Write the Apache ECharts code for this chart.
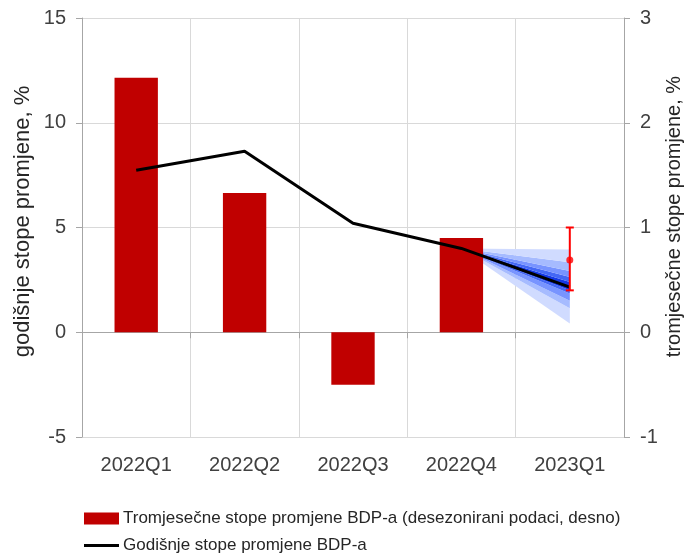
<!DOCTYPE html>
<html>
<head>
<meta charset="utf-8">
<script src="https://cdn.jsdelivr.net/npm/echarts@6/dist/echarts.min.js"></script>
<style>
html,body{margin:0;padding:0;background:#fff;}
#chart{width:684px;height:553px;}
</style>
</head>
<body>
<div id="chart"></div>
<script>
// ---- data ----
const categories = ['2022Q1', '2022Q2', '2022Q3', '2022Q4', '2023Q1'];
const quarterlyRates = [2.43, 1.33, -0.5, 0.9, null];          // right axis
const annualRates = [7.73, 8.64, 5.2, 4.0, 2.15];               // left axis
const fanStartIndex = 3;                                        // fan starts at 2022Q4
const fanEndEdges = [0.42, 1.14, 1.5, 1.85, 2.0, 2.4, 2.64, 2.92, 3.34, 3.95]; // band edges at 2023Q1
const fanColors = ['#d0dbff', '#a6bbff', '#7894ff', '#4468f5', '#1438e6', '#4468f5', '#7894ff', '#a6bbff', '#d0dbff'];
const forecastPoint = 0.69;   // 2023Q1 quarterly, right axis
const forecastLow = 0.40;
const forecastHigh = 1.0;
const leftTicks = {min: -5, max: 15, interval: 5};
const rightTicks = {min: -1, max: 3, interval: 1};
const legendNames = ['Tromjesečne stope promjene BDP-a (desezonirani podaci, desno)', 'Godišnje stope promjene BDP-a'];

// ---- build fan series ----
const fanSeries = [];
const startVal = annualRates[fanStartIndex];
function fanRow(startV, endV) {
  return categories.map((c, i) => i === fanStartIndex ? startV : (i === categories.length - 1 ? endV : null));
}
fanSeries.push({
  type: 'line', yAxisIndex: 0, stack: 'fan', symbol: 'none', silent: true, z: 1,
  lineStyle: {width: 0, opacity: 0},
  data: fanRow(startVal, fanEndEdges[0])
});
for (let b = 0; b < fanEndEdges.length - 1; b++) {
  fanSeries.push({
    type: 'line', yAxisIndex: 0, stack: 'fan', symbol: 'none', silent: true, z: 1,
    lineStyle: {width: 0, opacity: 0},
    areaStyle: {color: fanColors[b], opacity: 1},
    data: fanRow(0, +(fanEndEdges[b + 1] - fanEndEdges[b]).toFixed(3))
  });
}

const font = 'Liberation Sans, Arial, sans-serif';
const chart = echarts.init(document.getElementById('chart'));
chart.setOption({
  animation: false,
  backgroundColor: '#ffffff',
  grid: {left: 82, right: 60, top: 18, bottom: 116, containLabel: false, outerBoundsMode: 'none'},
  legend: [
    {
      data: [{name: legendNames[0], icon: 'rect'}],
      left: 79, top: 505, itemWidth: 35, itemHeight: 12,
      textStyle: {fontFamily: font, fontSize: 17, color: '#262626', padding: [0, 0, 0, -1]},
      selectedMode: false
    },
    {
      data: [{name: legendNames[1], icon: 'rect'}],
      left: 79, top: 532, itemWidth: 35, itemHeight: 3,
      textStyle: {fontFamily: font, fontSize: 17, color: '#262626', padding: [0, 0, 0, -1]},
      selectedMode: false
    }
  ],
  xAxis: {
    type: 'category', data: categories, boundaryGap: true,
    axisLine: {lineStyle: {color: '#a6a6a6', width: 1}},
    axisTick: {show: true, interval: 0, length: 6, lineStyle: {color: '#a6a6a6'}},
    axisLabel: {fontFamily: font, fontSize: 20, color: '#404040', margin: 18},
    splitLine: {show: true, interval: 0, lineStyle: {color: '#d9d9d9'}}
  },
  yAxis: [
    {
      type: 'value', min: leftTicks.min, max: leftTicks.max, interval: leftTicks.interval,
      name: 'godišnje stope promjene, %', nameLocation: 'middle', nameGap: 48, nameMoveOverlap: false,
      nameTextStyle: {fontFamily: font, fontSize: 22, color: '#262626', padding: [0, 0, 0, 12]},
      axisLine: {show: true, lineStyle: {color: '#a6a6a6'}},
      axisTick: {show: true, length: 6, lineStyle: {color: '#a6a6a6'}},
      axisLabel: {fontFamily: font, fontSize: 20, color: '#404040', margin: 16},
      splitLine: {show: true, lineStyle: {color: '#d9d9d9'}}
    },
    {
      type: 'value', min: rightTicks.min, max: rightTicks.max, interval: rightTicks.interval,
      position: 'right',
      name: 'tromjesečne stope promjene, %', nameLocation: 'middle', nameGap: 40, nameMoveOverlap: false,
      nameTextStyle: {fontFamily: font, fontSize: 20, color: '#262626', padding: [0, 0, 0, 22]},
      axisLine: {show: true, lineStyle: {color: '#a6a6a6'}},
      axisTick: {show: true, length: 6, lineStyle: {color: '#a6a6a6'}},
      axisLabel: {fontFamily: font, fontSize: 20, color: '#404040', margin: 16},
      splitLine: {show: false}
    }
  ],
  series: [
    ...fanSeries,
    {
      name: legendNames[0], type: 'bar', yAxisIndex: 1, barWidth: '40%', z: 2,
      itemStyle: {color: '#c00000'},
      data: quarterlyRates
    },
    {
      name: legendNames[1], type: 'line', yAxisIndex: 0, z: 3,
      symbol: 'none', itemStyle: {color: '#000000'},
      lineStyle: {color: '#000000', width: 3},
      data: annualRates
    },
    {
      type: 'custom', yAxisIndex: 1, z: 4, silent: true,
      data: [[categories.length - 1, forecastLow, forecastHigh]],
      renderItem: function (params, api) {
        const x = api.coord([api.value(0), api.value(1)])[0];
        const yLo = api.coord([api.value(0), api.value(1)])[1];
        const yHi = api.coord([api.value(0), api.value(2)])[1];
        const st = {stroke: '#ff0000', lineWidth: 2};
        return {type: 'group', children: [
          {type: 'line', shape: {x1: x, y1: yLo, x2: x, y2: yHi}, style: st},
          {type: 'line', shape: {x1: x - 4, y1: yLo, x2: x + 4, y2: yLo}, style: st},
          {type: 'line', shape: {x1: x - 4, y1: yHi, x2: x + 4, y2: yHi}, style: st}
        ]};
      }
    },
    {
      type: 'scatter', yAxisIndex: 1, z: 5, symbol: 'circle', symbolSize: 7,
      itemStyle: {color: '#ff0000'},
      data: categories.map((c, i) => i === categories.length - 1 ? forecastPoint : null)
    }
  ]
});
</script>
</body>
</html>
